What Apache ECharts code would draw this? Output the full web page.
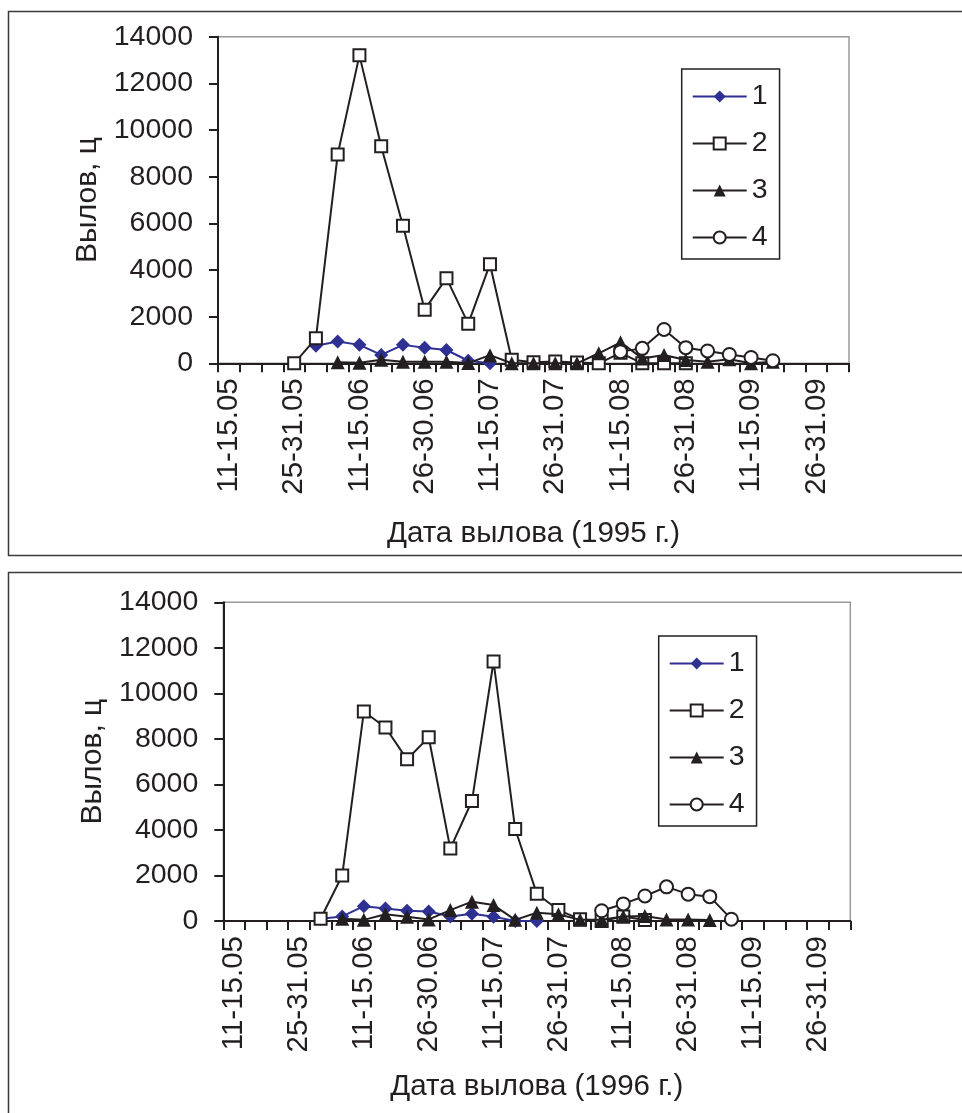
<!DOCTYPE html>
<html>
<head>
<meta charset="utf-8">
<script src="https://cdn.jsdelivr.net/npm/echarts@6/dist/echarts.min.js"></script>
<style>
html,body{margin:0;padding:0;background:#fff;}
#chart{width:962px;height:1113px;}
</style>
</head>
<body>
<div id="chart"></div>
<script>
// Categories: five-day periods from 11-15 May to 1-5 October
const categories = [
  '11-15.05','16-20.05','21-25.05','25-31.05',
  '1-5.06','6-10.06','11-15.06','16-20.06','21-25.06','26-30.06',
  '1-5.07','6-10.07','11-15.07','16-20.07','21-25.07','26-31.07',
  '1-5.08','6-10.08','11-15.08','16-20.08','21-25.08','26-31.08',
  '1-5.09','6-10.09','11-15.09','16-20.09','21-25.09','26-31.09',
  '1-5.10'
];
const yTicks = [0, 2000, 4000, 6000, 8000, 10000, 12000, 14000];
const seriesNames = ['1', '2', '3', '4'];

const s1_1995 = [null,null,null,null, 750,930,790,360,790,670, 570,110,0,null,null,null, null,null,null,null,null,null, null,null,null,null,null,null, null];
const s2_1995 = [null,null,null,0, 1070,8950,13200,9300,5900,2300, 3650,1700,4250,150,40,80, 30,0,450,0,0,0, null,null,null,null,null,null, null];
const s3_1995 = [null,null,null,null, null,50,20,150,70,70, 70,10,350,0,0,0, 0,430,900,210,360,140, 70,170,0,70,null,null, null];
const s4_1995 = [null,null,null,null, null,null,null,null,null,null, null,null,null,null,null,null, null,null,500,640,1450,670, 530,380,250,110,null,null, null];

const s1_1996 = [null,null,null,null, 100,200,650,550,450,420, 200,320,190,0,0,null, null,null,null,null,null,null, null,null,null,null,null,null, null];
const s2_1996 = [null,null,null,null, 100,2000,9200,8500,7100,8070, 3180,5270,11400,4040,1200,480, 80,0,200,40,null,null, null,null,null,null,null,null, null];
const s3_1996 = [null,null,null,null, null,100,50,300,190,70, 480,850,700,50,360,300, 50,50,200,220,70,70, 40,null,null,null,null,null, null];
const s4_1996 = [null,null,null,null, null,null,null,null,null,null, null,null,null,null,null,null, null,450,750,1100,1500,1180, 1070,80,null,null,null,null, null];

const FONT = 'Liberation Sans, Arial, Helvetica, sans-serif';
const TXT = '#231f20';
const BLUE = '#2e3192';

const chart = echarts.init(document.getElementById('chart'), null, {renderer: 'canvas'});

function xAxisCfg(gridIndex, title, gap) {
  return {
    type: 'category', gridIndex: gridIndex, data: categories, boundaryGap: true,
    name: title, nameLocation: 'middle', nameGap: gap,
    nameTextStyle: {fontFamily: FONT, fontSize: 29.5, color: TXT},
    axisLine: {show: true, lineStyle: {color: '#231f20', width: 2}},
    axisTick: {show: true, interval: 0, length: 9, lineStyle: {color: '#231f20', width: 2}},
    axisLabel: {interval: 2, rotate: 90, margin: 15, fontFamily: FONT, fontSize: 29.5, color: TXT},
    splitLine: {show: false}
  };
}
function yAxisCfg(gridIndex) {
  return {
    type: 'value', gridIndex: gridIndex, min: 0, max: 14000, interval: 2000,
    name: 'Вылов, ц', nameLocation: 'middle', nameGap: 114, nameRotate: 90,
    nameTextStyle: {fontFamily: FONT, fontSize: 30, color: TXT},
    axisLine: {show: true, lineStyle: {color: '#231f20', width: 2}},
    axisTick: {show: true, length: 9, lineStyle: {color: '#231f20', width: 2}},
    axisLabel: {margin: 25, fontFamily: FONT, fontSize: 28.5, color: TXT,
      formatter: function (v) { return yTicks.indexOf(v) >= 0 ? String(v) : ''; }},
    splitLine: {show: false}
  };
}
function mkSeries(idx, name, data, style) {
  return Object.assign({
    type: 'line', name: name, xAxisIndex: idx, yAxisIndex: idx, data: data,
    connectNulls: false, animation: false
  }, style);
}
const st1 = {symbol: 'diamond', symbolSize: 14, z: 2,
  lineStyle: {color: BLUE, width: 2}, itemStyle: {color: BLUE, borderColor: BLUE, borderWidth: 0}};
const st2 = {symbol: 'rect', symbolSize: 12, z: 3,
  lineStyle: {color: '#231f20', width: 2}, itemStyle: {color: '#ffffff', borderColor: '#231f20', borderWidth: 2}};
const st3 = {symbol: 'triangle', symbolSize: 14, z: 4,
  lineStyle: {color: '#231f20', width: 2}, itemStyle: {color: '#231f20', borderColor: '#231f20', borderWidth: 0}};
const st4 = {symbol: 'circle', symbolSize: 13, z: 5,
  lineStyle: {color: '#231f20', width: 2}, itemStyle: {color: '#ffffff', borderColor: '#231f20', borderWidth: 2}};

function legendCfg(left, top) {
  return {
    orient: 'vertical', left: left, top: top, data: seriesNames,
    itemWidth: 54, itemHeight: 15, itemGap: 18,
    padding: [13, 12, 7, 10],
    borderColor: '#231f20', borderWidth: 1.5, backgroundColor: '#fff',
    textStyle: {fontFamily: FONT, fontSize: 28.5, color: TXT},
    selectedMode: false
  };
}

const option = {
  backgroundColor: '#ffffff',
  animation: false,
  graphic: [
    {type: 'rect', shape: {x: 8.5, y: 11.5, width: 970, height: 544}, style: {fill: 'none', stroke: '#3a3a3a', lineWidth: 1.5}, z: -10},
    {type: 'rect', shape: {x: 8.5, y: 572.5, width: 970, height: 560}, style: {fill: 'none', stroke: '#3a3a3a', lineWidth: 1.5}, z: -10}
  ],
  grid: [
    {left: 218, top: 36.7, width: 631, height: 326.6, show: true, borderColor: '#9a9a9a', borderWidth: 1.5, backgroundColor: 'transparent'},
    {left: 223.3, top: 602.3, width: 627, height: 318.7, show: true, borderColor: '#9a9a9a', borderWidth: 1.5, backgroundColor: 'transparent'}
  ],
  legend: [legendCfg(681.7, 69), legendCfg(658.7, 636)],
  xAxis: [xAxisCfg(0, 'Дата вылова (1995 г.)', 156), xAxisCfg(1, 'Дата вылова (1996 г.)', 151)],
  yAxis: [yAxisCfg(0), yAxisCfg(1)],
  series: [
    mkSeries(0, '1', s1_1995, st1),
    mkSeries(0, '2', s2_1995, st2),
    mkSeries(0, '3', s3_1995, st3),
    mkSeries(0, '4', s4_1995, st4),
    mkSeries(1, '1', s1_1996, st1),
    mkSeries(1, '2', s2_1996, st2),
    mkSeries(1, '3', s3_1996, st3),
    mkSeries(1, '4', s4_1996, st4)
  ]
};
chart.setOption(option);
</script>
</body>
</html>
